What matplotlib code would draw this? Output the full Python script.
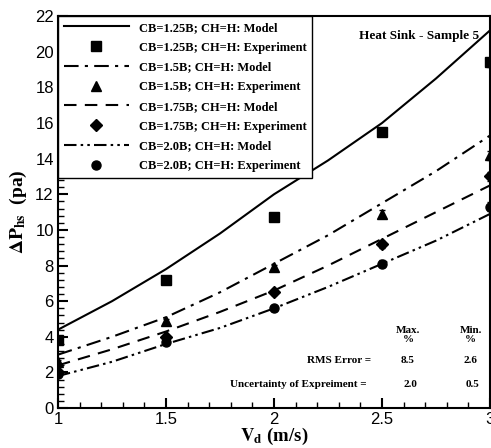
import matplotlib
matplotlib.use("Agg")
import matplotlib.pyplot as plt
from matplotlib.lines import Line2D
from matplotlib.ticker import MultipleLocator

# experimental points
vd_exp = [1.0, 1.5, 2.0, 2.5, 3.0]
exp_125 = [3.8, 7.2, 10.7, 15.5, 19.4]
exp_150 = [2.6, 4.9, 7.9, 10.9, 14.2]
exp_175 = [2.0, 4.0, 6.5, 9.2, 13.0]
exp_200 = [1.9, 3.7, 5.6, 8.1, 11.3]
exp_err = [0.1, 0.1, 0.15, 0.2, 0.25]

# model curves
vd_model = [1.0, 1.25, 1.5, 1.75, 2.0, 2.25, 2.5, 2.75, 3.0]
model_125 = [4.4, 6.0, 7.8, 9.8, 12.0, 13.9, 16.0, 18.5, 21.2]
model_150 = [3.0, 4.0, 5.1, 6.5, 8.1, 9.7, 11.5, 13.3, 15.3]
model_175 = [2.4, 3.3, 4.3, 5.4, 6.6, 8.0, 9.5, 11.0, 12.5]
model_200 = [1.8, 2.6, 3.6, 4.5, 5.6, 6.8, 8.1, 9.4, 10.9]

labels = ["1.25B", "1.5B", "1.75B", "2.0B"]

serif = "Liberation Serif"
sans = "Liberation Sans"
plt.rcParams["mathtext.fontset"] = "stix"

fig = plt.figure(figsize=(4.91, 4.48), dpi=100)
ax = fig.add_axes([0.118, 0.089, 0.880, 0.875])

styles = ["-", (0, (7, 3, 1.5, 3)), (0, (6, 4)), (0, (6, 2, 1.2, 2, 1.2, 2))]
markers = ["s", "^", "D", "o"]
msizes = [7, 7, 6, 6.5]
models = [model_125, model_150, model_175, model_200]
exps = [exp_125, exp_150, exp_175, exp_200]

handles, texts = [], []
for lab, ls, mk, ms, mod, ex in zip(labels, styles, markers, msizes, models, exps):
    ax.plot(vd_model, mod, color="black", linestyle=ls, lw=1.5)
    ax.errorbar(vd_exp, ex, yerr=exp_err, fmt=mk, color="black", ms=ms,
                capsize=2, elinewidth=1)
    handles.append(Line2D([], [], color="black", linestyle=ls, lw=1.5))
    texts.append(f"CB={lab}; CH=H: Model")
    handles.append(Line2D([], [], color="black", linestyle="none", marker=mk, ms=ms))
    texts.append(f"CB={lab}; CH=H: Experiment")

ax.set_xlim(1, 3)
ax.set_ylim(0, 22)
ax.xaxis.set_major_locator(MultipleLocator(0.5))
ax.xaxis.set_minor_locator(MultipleLocator(0.1))
ax.yaxis.set_major_locator(MultipleLocator(2))
ax.yaxis.set_minor_locator(MultipleLocator(0.4))
ax.set_xticks([1, 1.5, 2, 2.5, 3])
ax.set_xticklabels(["1", "1.5", "2", "2.5", "3"])
ax.tick_params(which="major", direction="in", length=7, width=1.5,
               labelsize=12, pad=3)
ax.tick_params(which="minor", direction="in", length=4, width=1)
for lbl in ax.get_xticklabels() + ax.get_yticklabels():
    lbl.set_fontfamily(sans)
for sp in ax.spines.values():
    sp.set_linewidth(1.5)

ax.set_xlabel(r"$\mathbf{V}_{\mathbf{d}}$ (m/s)", fontsize=13.5, fontweight="bold",
              family=serif, labelpad=-1)
ax.set_ylabel(r"$\mathbf{\Delta P}_{\mathbf{hs}}$  (pa)", fontsize=14, fontweight="bold",
              family=serif, labelpad=4)

leg = ax.legend(handles, texts, loc="upper left",
                prop={"family": serif, "weight": "bold", "size": 9},
                handlelength=5.2, handletextpad=0.8, fancybox=False,
                edgecolor="black", framealpha=1, borderaxespad=0,
                labelspacing=0.62, borderpad=0.45)
leg.get_frame().set_linewidth(1.0)

tkw = dict(family=serif, fontweight="bold", fontsize=8, transform=ax.transData)
ax.text(2.67, 20.9, "Heat Sink - Sample 5", family=serif, fontweight="bold",
        fontsize=9.5, ha="center", va="center")
ax.text(2.62, 4.1, "Max.\n%", ha="center", va="center", linespacing=0.9, **tkw)
ax.text(2.91, 4.1, "Min.\n%", ha="center", va="center", linespacing=0.9, **tkw)
ax.text(2.45, 2.7, "RMS Error =", ha="right", va="center", **tkw)
ax.text(2.62, 2.7, "8.5", ha="center", va="center", **tkw)
ax.text(2.91, 2.7, "2.6", ha="center", va="center", **tkw)
ax.text(2.43, 1.35, "Uncertainty of Expreiment =", ha="right", va="center", **tkw)
ax.text(2.63, 1.35, "2.0", ha="center", va="center", **tkw)
ax.text(2.92, 1.35, "0.5", ha="center", va="center", **tkw)

fig.savefig("out.png", dpi=100)
